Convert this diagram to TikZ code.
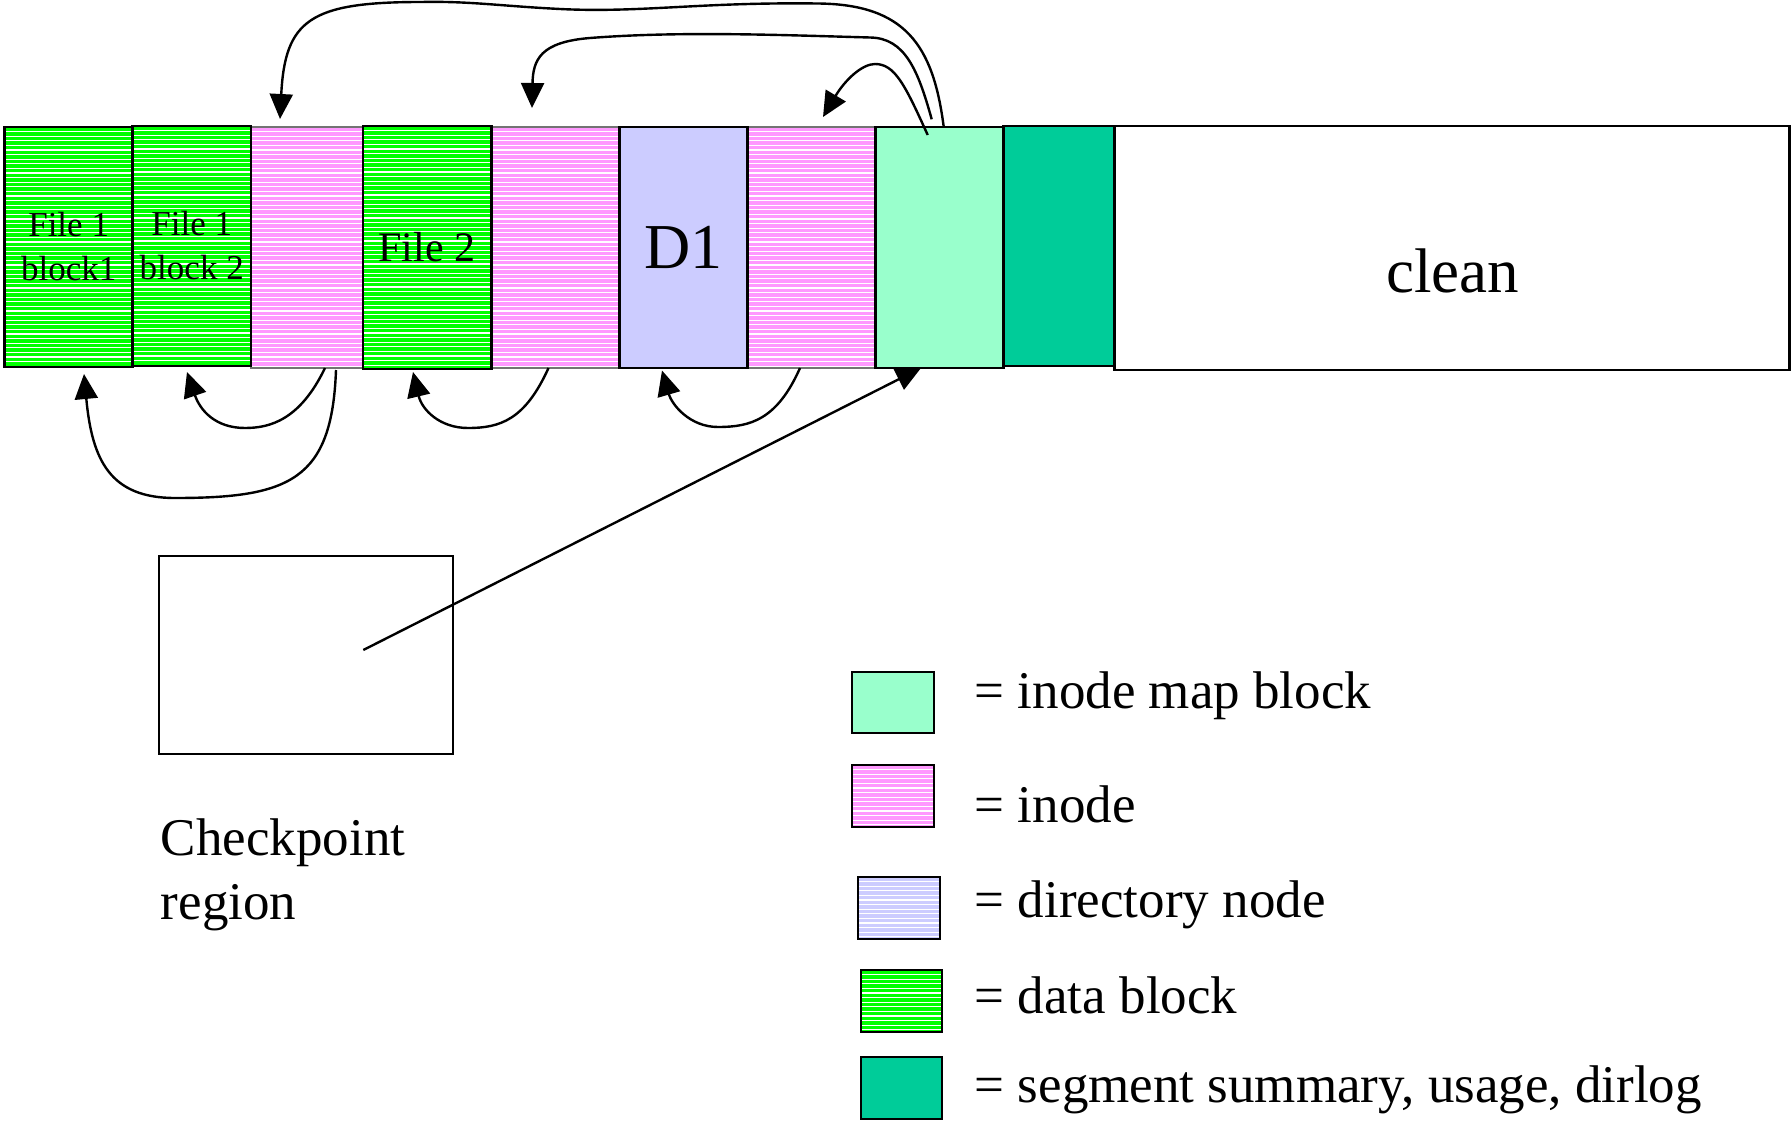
\documentclass[tikz,border=0pt]{standalone}
\usepackage{fontspec}
\setmainfont{Liberation Serif}
\usetikzlibrary{arrows.meta}

\definecolor{datagreen}{HTML}{00FF00}
\definecolor{inodepink}{HTML}{FF99FF}
\definecolor{dirblue}{HTML}{CCCCFF}
\definecolor{imapgreen}{HTML}{99FFCC}
\definecolor{segteal}{HTML}{00CC99}

\tikzset{
  hatched/.style={path picture={
    \foreach \k in {1,...,56}{
      \draw[white,line width=1.1pt]
        ([yshift={-\k*4.6pt}]path picture bounding box.north west) --
        ([yshift={-\k*4.6pt}]path picture bounding box.north east);}}},
  blk/.style={draw=black, line width=2.6pt, inner sep=0pt, outer sep=0pt,
    anchor=north west, align=center},
  datablk/.style={blk, fill=datagreen, hatched},
  inodeblk/.style={blk, draw=black!55, fill=inodepink, hatched},
  dirblk/.style={blk, fill=dirblue},
  dirleg/.style={blk, fill=dirblue, hatched},
  imapblk/.style={blk, fill=imapgreen},
  segblk/.style={blk, fill=segteal},
  plainblk/.style={blk, fill=white},
  smalltxt/.style={font=\fontsize{35pt}{44pt}\selectfont},
  legtxt/.style={anchor=base west, inner sep=0pt,
    font=\fontsize{53pt}{64pt}\selectfont},
  ptr/.style={draw=black, line width=2.4pt,
    -{Triangle[length=25pt,width=23pt]}},
}

\begin{document}
\begin{tikzpicture}[x=1pt,y=-1pt]
\useasboundingbox[fill=white] (0,0) rectangle (1791,1121);

% --- log segment: inodes first so neighbouring black edges sit on top
\node[inodeblk, minimum width=112pt, minimum height=241pt] (i1) at (250.8,127) {};
\node[inodeblk, minimum width=128pt, minimum height=241pt] (i2) at (491.3,127) {};
\node[inodeblk, minimum width=127.9pt, minimum height=241pt] (i3) at (747.5,127) {};

\node[datablk, smalltxt, minimum width=128.1pt, minimum height=240pt] (b1) at (4.6,127) {File 1\\block1};
\node[datablk, smalltxt, minimum width=118.1pt, minimum height=240pt] (b2) at (132.7,126) {File 1\\block 2};
\node[datablk, font=\fontsize{42pt}{50pt}\selectfont, minimum width=128.5pt, minimum height=243pt] (f2) at (362.8,126) {File 2};
\node[dirblk, font=\fontsize{64pt}{76pt}\selectfont, minimum width=128.2pt, minimum height=241pt] (d1) at (619.3,127) {D1};
\node[imapblk, minimum width=127.9pt, minimum height=241pt] (im) at (875.4,127) {};
\node[segblk, minimum width=110.9pt, minimum height=240pt] (sg) at (1003.3,126) {};
\node[plainblk, minimum width=675.3pt, minimum height=244pt] (cl) at (1114.2,126) {};
\node[anchor=base, inner sep=0pt, font=\fontsize{63pt}{76pt}\selectfont] (cltxt) at (1452.6,292) {clean};

% --- checkpoint region
\node[blk, line width=2.3pt, fill=white, minimum width=294pt, minimum height=198pt] (cp) at (159,556) {};
\node[legtxt] (cpa) at (160.7,855) {Checkpoint};
\node[legtxt] (cpb) at (160.7,919) {region};

% --- connector end points
\coordinate (aS) at (943.6,126);
\coordinate (aE) at (280,119);
\coordinate (bS) at (931.7,119.3);
\coordinate (bE) at (532,108);
\coordinate (cS) at (927.7,135);
\coordinate (cE) at (823,117);
\coordinate (dS) at (325,368);
\coordinate (dE) at (187,372);
\coordinate (eS) at (336,370);
\coordinate (eE) at (84,374);
\coordinate (fS) at (548.5,368);
\coordinate (fE) at (413,372);
\coordinate (gS) at (800,368);
\coordinate (gE) at (662,370.5);
\coordinate (cpS) at (363.3,650);
\coordinate (imB) at (921,368);

% --- inode map pointers to the inodes
\draw[ptr] (aS) .. controls (933,45) and (905,4) .. (817,3.5)
  .. controls (700,2) and (640,13) .. (560,9)
  .. controls (500,6) and (470,1) .. (421,2)
  .. controls (310,2) and (285,20) .. (aE);
\draw[ptr] (bS) .. controls (918,70) and (905,38) .. (870,37.5)
  .. controls (780,35) and (680,31) .. (590,38)
  .. controls (540,42) and (533,60) .. (bE);
\draw[ptr] (cS) .. controls (905,85) and (895,64) .. (875,64)
  .. controls (862,64) and (845,80) .. (cE);

% --- inode pointers to their blocks
\draw[ptr] (dS) .. controls (300,420) and (270,428) .. (245,428)
  .. controls (215,428) and (200,410) .. (dE);
\draw[ptr] (eS) .. controls (332,480) and (290,498) .. (175,498)
  .. controls (110,498) and (92,460) .. (eE);
\draw[ptr] (fS) .. controls (525,420) and (500,428) .. (468,428)
  .. controls (440,428) and (422,410) .. (fE);
\draw[ptr] (gS) .. controls (777,420) and (750,427) .. (718,427)
  .. controls (690,427) and (672,405) .. (gE);

% --- checkpoint pointer to the inode map
\draw[ptr] (cpS) -- (imB);

% --- legend
\node[imapblk, line width=2.3pt, minimum width=82pt, minimum height=61pt] (l1) at (852,672) {};
\node[inodeblk, draw=black, line width=2.3pt, minimum width=82pt, minimum height=62pt] (l2) at (852,765) {};
\node[dirleg, line width=2.3pt, minimum width=82pt, minimum height=62pt] (l3) at (858,877) {};
\node[datablk, line width=2.3pt, minimum width=81pt, minimum height=62pt] (l4) at (861,970) {};
\node[segblk, line width=2.3pt, minimum width=81pt, minimum height=62pt] (l5) at (861,1057) {};

\node[legtxt] (lt1) at (974.6,708) {= inode map block};
\node[legtxt] (lt2) at (974.6,822) {= inode};
\node[legtxt] (lt3) at (974.6,917) {= directory node};
\node[legtxt] (lt4) at (974.6,1013) {= data block};
\node[legtxt] (lt5) at (974.6,1102) {= segment summary, usage, dirlog};
\end{tikzpicture}
\end{document}
